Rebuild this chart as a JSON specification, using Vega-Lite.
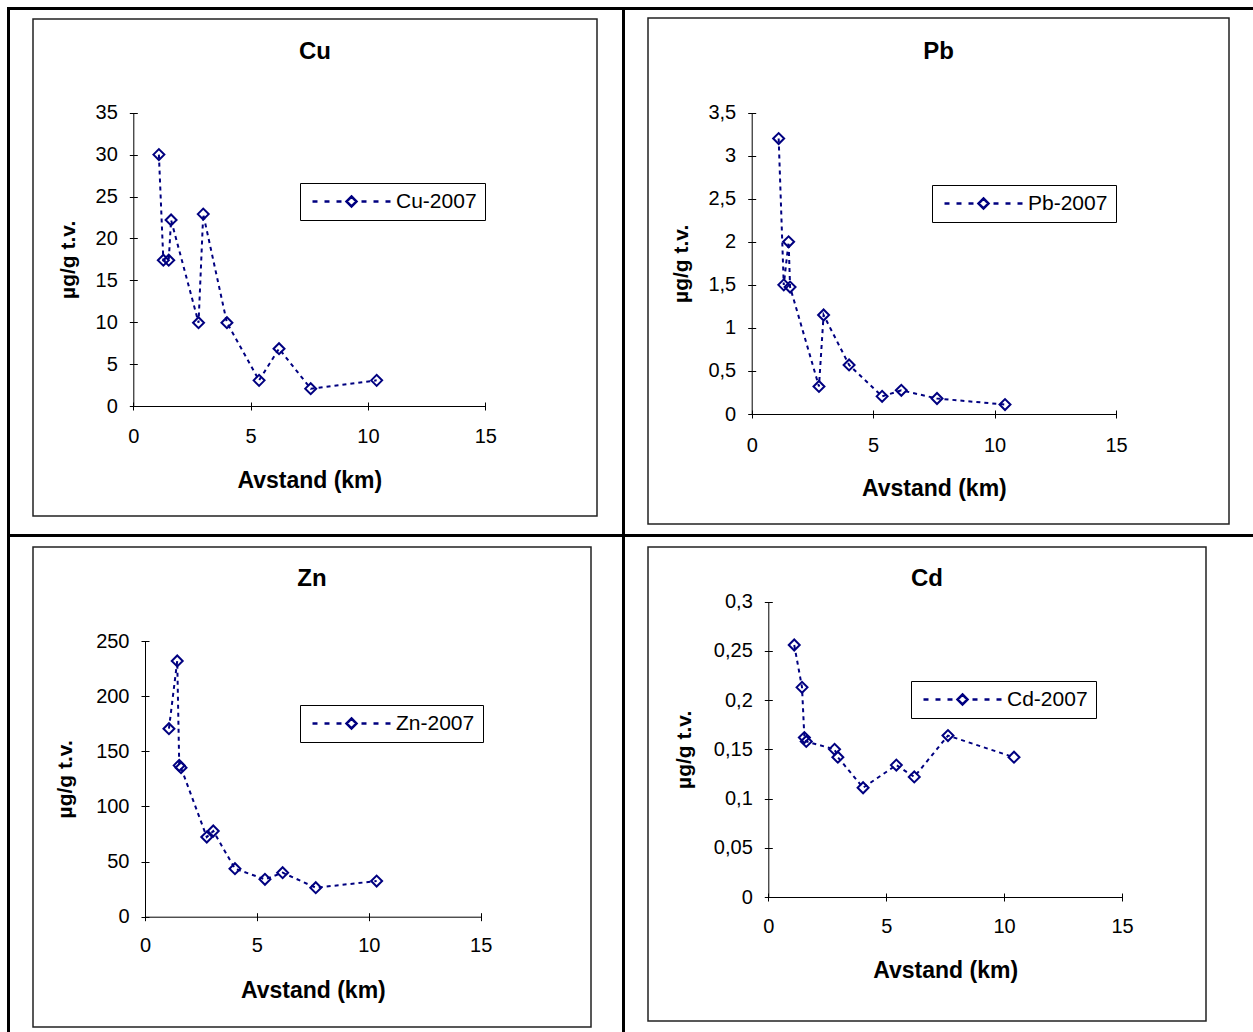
{
  "$schema": "https://vega.github.io/schema/vega-lite/v6.json",
  "padding": {"left": 7, "top": 7, "right": 0, "bottom": 0},
  "background": "white",
  "spacing": 0,
  "resolve": {"scale": {"color": "independent"}, "legend": {"color": "independent"}},
  "datasets": {
    "cu": [
      {"avstand": 1.09, "verdi": 30.0, "serie": "Cu-2007"},
      {"avstand": 1.28, "verdi": 17.4, "serie": "Cu-2007"},
      {"avstand": 1.51, "verdi": 17.4, "serie": "Cu-2007"},
      {"avstand": 1.61, "verdi": 22.2, "serie": "Cu-2007"},
      {"avstand": 2.78, "verdi": 9.94, "serie": "Cu-2007"},
      {"avstand": 2.98, "verdi": 22.9, "serie": "Cu-2007"},
      {"avstand": 3.99, "verdi": 9.94, "serie": "Cu-2007"},
      {"avstand": 5.36, "verdi": 3.06, "serie": "Cu-2007"},
      {"avstand": 6.21, "verdi": 6.84, "serie": "Cu-2007"},
      {"avstand": 7.56, "verdi": 2.07, "serie": "Cu-2007"},
      {"avstand": 10.37, "verdi": 3.06, "serie": "Cu-2007"}
    ],
    "pb": [
      {"avstand": 1.11, "verdi": 3.2, "serie": "Pb-2007"},
      {"avstand": 1.32, "verdi": 1.5, "serie": "Pb-2007"},
      {"avstand": 1.52, "verdi": 2.0, "serie": "Pb-2007"},
      {"avstand": 1.58, "verdi": 1.475, "serie": "Pb-2007"},
      {"avstand": 2.77, "verdi": 0.32, "serie": "Pb-2007"},
      {"avstand": 2.96, "verdi": 1.15, "serie": "Pb-2007"},
      {"avstand": 4.01, "verdi": 0.57, "serie": "Pb-2007"},
      {"avstand": 5.37, "verdi": 0.205, "serie": "Pb-2007"},
      {"avstand": 6.16, "verdi": 0.275, "serie": "Pb-2007"},
      {"avstand": 7.63, "verdi": 0.18, "serie": "Pb-2007"},
      {"avstand": 10.43, "verdi": 0.11, "serie": "Pb-2007"}
    ],
    "zn": [
      {"avstand": 1.07, "verdi": 170.5, "serie": "Zn-2007"},
      {"avstand": 1.44, "verdi": 231.9, "serie": "Zn-2007"},
      {"avstand": 1.53, "verdi": 137.2, "serie": "Zn-2007"},
      {"avstand": 1.61, "verdi": 135.1, "serie": "Zn-2007"},
      {"avstand": 2.76, "verdi": 72.2, "serie": "Zn-2007"},
      {"avstand": 3.05, "verdi": 77.7, "serie": "Zn-2007"},
      {"avstand": 4.02, "verdi": 43.5, "serie": "Zn-2007"},
      {"avstand": 5.36, "verdi": 33.9, "serie": "Zn-2007"},
      {"avstand": 6.15, "verdi": 39.9, "serie": "Zn-2007"},
      {"avstand": 7.63, "verdi": 26.3, "serie": "Zn-2007"},
      {"avstand": 10.35, "verdi": 32.3, "serie": "Zn-2007"}
    ],
    "cd": [
      {"avstand": 1.10, "verdi": 0.256, "serie": "Cd-2007"},
      {"avstand": 1.43, "verdi": 0.213, "serie": "Cd-2007"},
      {"avstand": 1.53, "verdi": 0.162, "serie": "Cd-2007"},
      {"avstand": 1.61, "verdi": 0.158, "serie": "Cd-2007"},
      {"avstand": 2.81, "verdi": 0.150, "serie": "Cd-2007"},
      {"avstand": 2.95, "verdi": 0.142, "serie": "Cd-2007"},
      {"avstand": 4.02, "verdi": 0.111, "serie": "Cd-2007"},
      {"avstand": 5.43, "verdi": 0.134, "serie": "Cd-2007"},
      {"avstand": 6.19, "verdi": 0.122, "serie": "Cd-2007"},
      {"avstand": 7.62, "verdi": 0.164, "serie": "Cd-2007"},
      {"avstand": 10.42, "verdi": 0.142, "serie": "Cd-2007"}
    ]
  },
  "config": {
    "font": "Liberation Sans",
    "view": {"stroke": null},
    "axis": {
      "grid": false,
      "domainColor": "black",
      "domainWidth": 1,
      "tickColor": "black",
      "tickWidth": 1,
      "labelColor": "black",
      "titleColor": "black",
      "labelFont": "Liberation Sans",
      "titleFont": "Liberation Sans",
      "labelFontSize": 20,
      "titleFontWeight": "bold",
      "labelFlush": false,
      "labelOverlap": false,
      "labelExpr": "replace(format(datum.value, '~g'), '.', ',')"
    },
    "axisX": {"titleFontSize": 23},
    "axisY": {"titleFontSize": 21},
    "legend": {
      "orient": "none",
      "strokeColor": "black",
      "fillColor": "white",
      "padding": 8,
      "cornerRadius": 0,
      "labelFont": "Liberation Sans",
      "labelFontSize": 21,
      "labelColor": "black",
      "symbolType": "M-6.5,0H-5.667M-4.5,0H-3.667M-2.5,0H-1.667M1.667,0H2.5M3.667,0H4.5M5.667,0H6.5M0,-0.833L0.833,0L0,0.833L-0.833,0Z",
      "symbolSize": 144,
      "symbolStrokeWidth": 2.5,
      "symbolFillColor": "transparent",
      "symbolStrokeColor": "#000080",
      "symbolOffset": 33,
      "labelOffset": 34
    },
    "title": {"font": "Liberation Sans", "fontSize": 24, "fontWeight": "bold", "color": "black", "anchor": "middle", "frame": "group", "baseline": "alphabetic"}
  },
  "vconcat": [
    {"width": 1246, "height": 3, "data": {"values": []}, "mark": {"type": "point", "opacity": 0}, "view": {"fill": "black", "stroke": null}},
    {
      "spacing": 0,
      "resolve": {"scale": {"color": "independent"}, "legend": {"color": "independent"}},
      "hconcat": [
        {"width": 3, "height": 1022, "data": {"values": []}, "mark": {"type": "point", "opacity": 0}, "view": {"fill": "black", "stroke": null}},
        {
          "spacing": 0,
          "resolve": {"scale": {"color": "independent"}, "legend": {"color": "independent"}},
          "vconcat": [
            {"width": 612, "height": 8, "data": {"values": []}, "mark": {"type": "point", "opacity": 0}, "view": {"fill": "transparent", "stroke": null}},
            {
              "spacing": 0,
              "bounds": "flush",
              "hconcat": [
                {"width": 23, "height": 497, "data": {"values": []}, "mark": {"type": "point", "opacity": 0}, "view": {"fill": "transparent", "stroke": null}},
                {
                  "width": 564,
                  "height": 497,
                  "view": {"stroke": "#222", "strokeWidth": 1.5, "fill": "white"},
                  "title": {"text": "Cu", "offset": -45},
                  "data": {"name": "cu"},
                  "resolve": {"axis": {"x": "independent", "y": "independent"}},
                  "layer": [
                    {
                      "mark": {"type": "line", "color": "#000080", "strokeWidth": 2, "strokeDash": [4, 4]},
                      "encoding": {
                        "x": {"field": "avstand", "type": "quantitative",
                          "scale": {"domain": [0, 15], "range": [100.3, 452.3], "nice": false, "zero": false},
                          "axis": {"orient": "bottom", "offset": -110, "values": [0, 5, 10, 15], "ticks": false, "tickSize": 0, "labelPadding": 30, "labelBaseline": "middle", "title": "Avstand (km)", "titleY": 74, "titleBaseline": "middle"}},
                        "y": {"field": "verdi", "type": "quantitative",
                          "scale": {"domain": [0, 35], "range": [387, 93.7], "nice": false, "zero": false},
                          "axis": {"orient": "left", "offset": -100.3, "values": [0, 5, 10, 15, 20, 25, 30, 35], "ticks": false, "tickSize": 0, "labelPadding": 16, "title": "µg/g t.v.", "titleX": -64.5, "titleBaseline": "middle"}}
                      }
                    },
                    {
                      "mark": {"type": "point", "shape": "diamond", "filled": false, "size": 120, "strokeWidth": 2, "opacity": 1},
                      "encoding": {
                        "x": {"field": "avstand", "type": "quantitative",
                          "scale": {"domain": [0, 15], "range": [100.3, 452.3], "nice": false, "zero": false},
                          "axis": {"orient": "bottom", "offset": -114, "values": [0, 5, 10, 15], "domain": false, "labels": false, "ticks": true, "tickSize": 8, "title": null}},
                        "y": {"field": "verdi", "type": "quantitative",
                          "scale": {"domain": [0, 35], "range": [387, 93.7], "nice": false, "zero": false},
                          "axis": {"orient": "left", "offset": -104.3, "values": [0, 5, 10, 15, 20, 25, 30, 35], "domain": false, "labels": false, "ticks": true, "tickSize": 8, "title": null}},
                        "color": {"field": "serie", "type": "nominal", "scale": {"range": ["#000080"]},
                          "legend": {"title": null, "legendX": 290, "legendY": 164}}
                      }
                    }
                  ]
                }
              ]
            },
            {"width": 612, "height": 17, "data": {"values": []}, "mark": {"type": "point", "opacity": 0}, "view": {"fill": "transparent", "stroke": null}},
            {"width": 612, "height": 3, "data": {"values": []}, "mark": {"type": "point", "opacity": 0}, "view": {"fill": "black", "stroke": null}},
            {"width": 612, "height": 8.5, "data": {"values": []}, "mark": {"type": "point", "opacity": 0}, "view": {"fill": "transparent", "stroke": null}},
            {
              "spacing": 0,
              "bounds": "flush",
              "hconcat": [
                {"width": 23, "height": 480, "data": {"values": []}, "mark": {"type": "point", "opacity": 0}, "view": {"fill": "transparent", "stroke": null}},
                {
                  "width": 558,
                  "height": 480,
                  "view": {"stroke": "#222", "strokeWidth": 1.5, "fill": "white"},
                  "title": {"text": "Zn", "offset": -44},
                  "data": {"name": "zn"},
                  "resolve": {"axis": {"x": "independent", "y": "independent"}},
                  "layer": [
                    {
                      "mark": {"type": "line", "color": "#000080", "strokeWidth": 2, "strokeDash": [4, 4]},
                      "encoding": {
                        "x": {"field": "avstand", "type": "quantitative",
                          "scale": {"domain": [0, 15], "range": [112, 447.7], "nice": false, "zero": false},
                          "axis": {"orient": "bottom", "offset": -110.3, "values": [0, 5, 10, 15], "ticks": false, "tickSize": 0, "labelPadding": 29, "labelBaseline": "middle", "title": "Avstand (km)", "titleY": 74, "titleBaseline": "middle"}},
                        "y": {"field": "verdi", "type": "quantitative",
                          "scale": {"domain": [0, 250], "range": [369.7, 94], "nice": false, "zero": false},
                          "axis": {"orient": "left", "offset": -112, "values": [0, 50, 100, 150, 200, 250], "ticks": false, "tickSize": 0, "labelPadding": 16, "title": "µg/g t.v.", "titleX": -79.5, "titleBaseline": "middle"}}
                      }
                    },
                    {
                      "mark": {"type": "point", "shape": "diamond", "filled": false, "size": 120, "strokeWidth": 2, "opacity": 1},
                      "encoding": {
                        "x": {"field": "avstand", "type": "quantitative",
                          "scale": {"domain": [0, 15], "range": [112, 447.7], "nice": false, "zero": false},
                          "axis": {"orient": "bottom", "offset": -114.3, "values": [0, 5, 10, 15], "domain": false, "labels": false, "ticks": true, "tickSize": 8, "title": null}},
                        "y": {"field": "verdi", "type": "quantitative",
                          "scale": {"domain": [0, 250], "range": [369.7, 94], "nice": false, "zero": false},
                          "axis": {"orient": "left", "offset": -116, "values": [0, 50, 100, 150, 200, 250], "domain": false, "labels": false, "ticks": true, "tickSize": 8, "title": null}},
                        "color": {"field": "serie", "type": "nominal", "scale": {"range": ["#000080"]},
                          "legend": {"title": null, "legendX": 290, "legendY": 158}}
                      }
                    }
                  ]
                }
              ]
            }
          ]
        },
        {"width": 3, "height": 1022, "data": {"values": []}, "mark": {"type": "point", "opacity": 0}, "view": {"fill": "black", "stroke": null}},
        {
          "spacing": 0,
          "resolve": {"scale": {"color": "independent"}, "legend": {"color": "independent"}},
          "vconcat": [
            {"width": 628, "height": 7, "data": {"values": []}, "mark": {"type": "point", "opacity": 0}, "view": {"fill": "transparent", "stroke": null}},
            {
              "spacing": 0,
              "bounds": "flush",
              "hconcat": [
                {"width": 23, "height": 506, "data": {"values": []}, "mark": {"type": "point", "opacity": 0}, "view": {"fill": "transparent", "stroke": null}},
                {
                  "width": 581,
                  "height": 506,
                  "view": {"stroke": "#222", "strokeWidth": 1.5, "fill": "white"},
                  "title": {"text": "Pb", "offset": -46},
                  "data": {"name": "pb"},
                  "resolve": {"axis": {"x": "independent", "y": "independent"}},
                  "layer": [
                    {
                      "mark": {"type": "line", "color": "#000080", "strokeWidth": 2, "strokeDash": [4, 4]},
                      "encoding": {
                        "x": {"field": "avstand", "type": "quantitative",
                          "scale": {"domain": [0, 15], "range": [103.7, 468], "nice": false, "zero": false},
                          "axis": {"orient": "bottom", "offset": -110, "values": [0, 5, 10, 15], "ticks": false, "tickSize": 0, "labelPadding": 31, "labelBaseline": "middle", "title": "Avstand (km)", "titleY": 74, "titleBaseline": "middle"}},
                        "y": {"field": "verdi", "type": "quantitative",
                          "scale": {"domain": [0, 3.5], "range": [396, 94.7], "nice": false, "zero": false},
                          "axis": {"orient": "left", "offset": -103.7, "values": [0, 0.5, 1, 1.5, 2, 2.5, 3, 3.5], "ticks": false, "tickSize": 0, "labelPadding": 16, "title": "µg/g t.v.", "titleX": -70, "titleBaseline": "middle"}}
                      }
                    },
                    {
                      "mark": {"type": "point", "shape": "diamond", "filled": false, "size": 120, "strokeWidth": 2, "opacity": 1},
                      "encoding": {
                        "x": {"field": "avstand", "type": "quantitative",
                          "scale": {"domain": [0, 15], "range": [103.7, 468], "nice": false, "zero": false},
                          "axis": {"orient": "bottom", "offset": -114, "values": [0, 5, 10, 15], "domain": false, "labels": false, "ticks": true, "tickSize": 8, "title": null}},
                        "y": {"field": "verdi", "type": "quantitative",
                          "scale": {"domain": [0, 3.5], "range": [396, 94.7], "nice": false, "zero": false},
                          "axis": {"orient": "left", "offset": -107.7, "values": [0, 0.5, 1, 1.5, 2, 2.5, 3, 3.5], "domain": false, "labels": false, "ticks": true, "tickSize": 8, "title": null}},
                        "color": {"field": "serie", "type": "nominal", "scale": {"range": ["#000080"]},
                          "legend": {"title": null, "legendX": 307, "legendY": 167}}
                      }
                    }
                  ]
                }
              ]
            },
            {"width": 628, "height": 9, "data": {"values": []}, "mark": {"type": "point", "opacity": 0}, "view": {"fill": "transparent", "stroke": null}},
            {"width": 628, "height": 3, "data": {"values": []}, "mark": {"type": "point", "opacity": 0}, "view": {"fill": "black", "stroke": null}},
            {"width": 628, "height": 8.5, "data": {"values": []}, "mark": {"type": "point", "opacity": 0}, "view": {"fill": "transparent", "stroke": null}},
            {
              "spacing": 0,
              "bounds": "flush",
              "hconcat": [
                {"width": 23, "height": 474, "data": {"values": []}, "mark": {"type": "point", "opacity": 0}, "view": {"fill": "transparent", "stroke": null}},
                {
                  "width": 558,
                  "height": 474,
                  "view": {"stroke": "#222", "strokeWidth": 1.5, "fill": "white"},
                  "title": {"text": "Cd", "offset": -44},
                  "data": {"name": "cd"},
                  "resolve": {"axis": {"x": "independent", "y": "independent"}},
                  "layer": [
                    {
                      "mark": {"type": "line", "color": "#000080", "strokeWidth": 2, "strokeDash": [4, 4]},
                      "encoding": {
                        "x": {"field": "avstand", "type": "quantitative",
                          "scale": {"domain": [0, 15], "range": [120.3, 474], "nice": false, "zero": false},
                          "axis": {"orient": "bottom", "offset": -124, "values": [0, 5, 10, 15], "ticks": false, "tickSize": 0, "labelPadding": 29, "labelBaseline": "middle", "title": "Avstand (km)", "titleY": 73, "titleBaseline": "middle"}},
                        "y": {"field": "verdi", "type": "quantitative",
                          "scale": {"domain": [0, 0.3], "range": [350, 54.7], "nice": false, "zero": false},
                          "axis": {"orient": "left", "offset": -120.3, "values": [0, 0.05, 0.1, 0.15, 0.2, 0.25, 0.3], "ticks": false, "tickSize": 0, "labelPadding": 16, "title": "µg/g t.v.", "titleX": -83.5, "titleBaseline": "middle"}}
                      }
                    },
                    {
                      "mark": {"type": "point", "shape": "diamond", "filled": false, "size": 120, "strokeWidth": 2, "opacity": 1},
                      "encoding": {
                        "x": {"field": "avstand", "type": "quantitative",
                          "scale": {"domain": [0, 15], "range": [120.3, 474], "nice": false, "zero": false},
                          "axis": {"orient": "bottom", "offset": -128, "values": [0, 5, 10, 15], "domain": false, "labels": false, "ticks": true, "tickSize": 8, "title": null}},
                        "y": {"field": "verdi", "type": "quantitative",
                          "scale": {"domain": [0, 0.3], "range": [350, 54.7], "nice": false, "zero": false},
                          "axis": {"orient": "left", "offset": -124.3, "values": [0, 0.05, 0.1, 0.15, 0.2, 0.25, 0.3], "domain": false, "labels": false, "ticks": true, "tickSize": 8, "title": null}},
                        "color": {"field": "serie", "type": "nominal", "scale": {"range": ["#000080"]},
                          "legend": {"title": null, "legendX": 286, "legendY": 134}}
                      }
                    }
                  ]
                }
              ]
            }
          ]
        }
      ]
    }
  ]
}
